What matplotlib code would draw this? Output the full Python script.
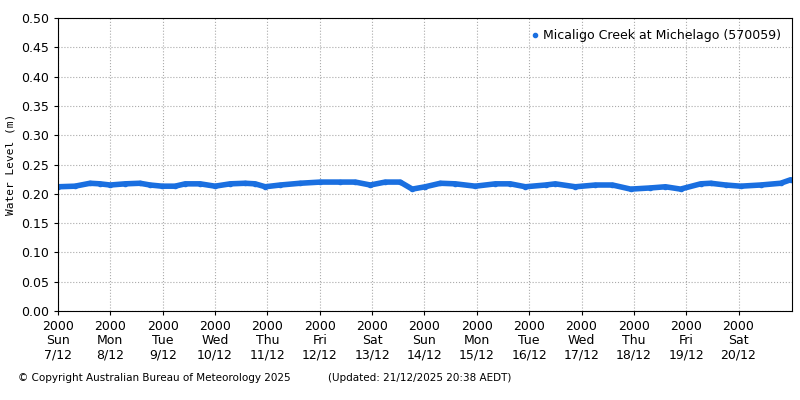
import matplotlib
matplotlib.use("Agg")
import matplotlib.pyplot as plt

hours = [0, 7.8, 14.7, 19.3, 23.9, 30.7, 37.6, 42.2, 47.7, 53.7, 58.3, 65.2, 72, 78.9, 85.8, 90.4,
         95, 101.9, 111, 120.2, 129.4, 136.3, 143.2, 150, 156.9, 162.4, 168.4, 175.3, 182.2, 191.3,
         200.5, 207.4, 214.3, 223.5, 228, 237.2, 246.4, 254.2, 262.5, 271.6, 278.5, 285.4, 294.6,
         299.2, 306.1, 312.9, 322.1, 331.3, 335.9]
level = [0.212, 0.213, 0.218, 0.217, 0.215, 0.217, 0.218, 0.215, 0.213, 0.213, 0.217, 0.217,
         0.213, 0.217, 0.218, 0.217, 0.212, 0.215, 0.218, 0.220, 0.220, 0.220, 0.215, 0.220,
         0.220, 0.208, 0.212, 0.218, 0.217, 0.213, 0.217, 0.217, 0.212, 0.215, 0.217, 0.212,
         0.215, 0.215, 0.208, 0.210, 0.212, 0.208, 0.217, 0.218, 0.215, 0.213, 0.215, 0.218, 0.224]
day_names = ["Sun", "Mon", "Tue", "Wed", "Thu", "Fri", "Sat", "Sun", "Mon", "Tue", "Wed", "Thu", "Fri", "Sat"]
day_dates = ["7/12", "8/12", "9/12", "10/12", "11/12", "12/12", "13/12", "14/12", "15/12", "16/12",
             "17/12", "18/12", "19/12", "20/12"]

fig = plt.figure(figsize=(8, 4), dpi=100)
ax = fig.add_axes([0.0725, 0.2225, 0.9175, 0.7325])
ax.plot(hours, level, color="#1a6fe0", lw=4, marker="o", ms=3, solid_capstyle="round",
        label="Micaligo Creek at Michelago (570059)")
ax.set_xlim(0, 336.5)
ax.set_ylim(0, 0.5)
ax.set_yticks([i * 0.05 for i in range(11)])
ax.set_yticklabels([f"{i*0.05:.2f}" for i in range(11)], fontsize=9)
ax.set_xticks([i * 24 for i in range(14)])
ax.set_xticklabels([f"2000\n{n}\n{d}" for n, d in zip(day_names, day_dates)], fontsize=9, linespacing=1.1)
ax.grid(True, linestyle=":", color="#aaaaaa", lw=0.8)
ax.tick_params(length=3)
ax.set_ylabel("Water Level (m)", fontsize=8, family="DejaVu Sans Mono")
leg = ax.legend(loc="upper right", frameon=False, fontsize=9, handlelength=0.5, handletextpad=0.4,
                markerscale=1)
for h in leg.legend_handles:
    h.set_linestyle("")
fig.text(0.022, 0.048, "© Copyright Australian Bureau of Meteorology 2025", fontsize=7.5)
fig.text(0.41, 0.048, "(Updated: 21/12/2025 20:38 AEDT)", fontsize=7.5)
fig.savefig("out.png", dpi=100)
